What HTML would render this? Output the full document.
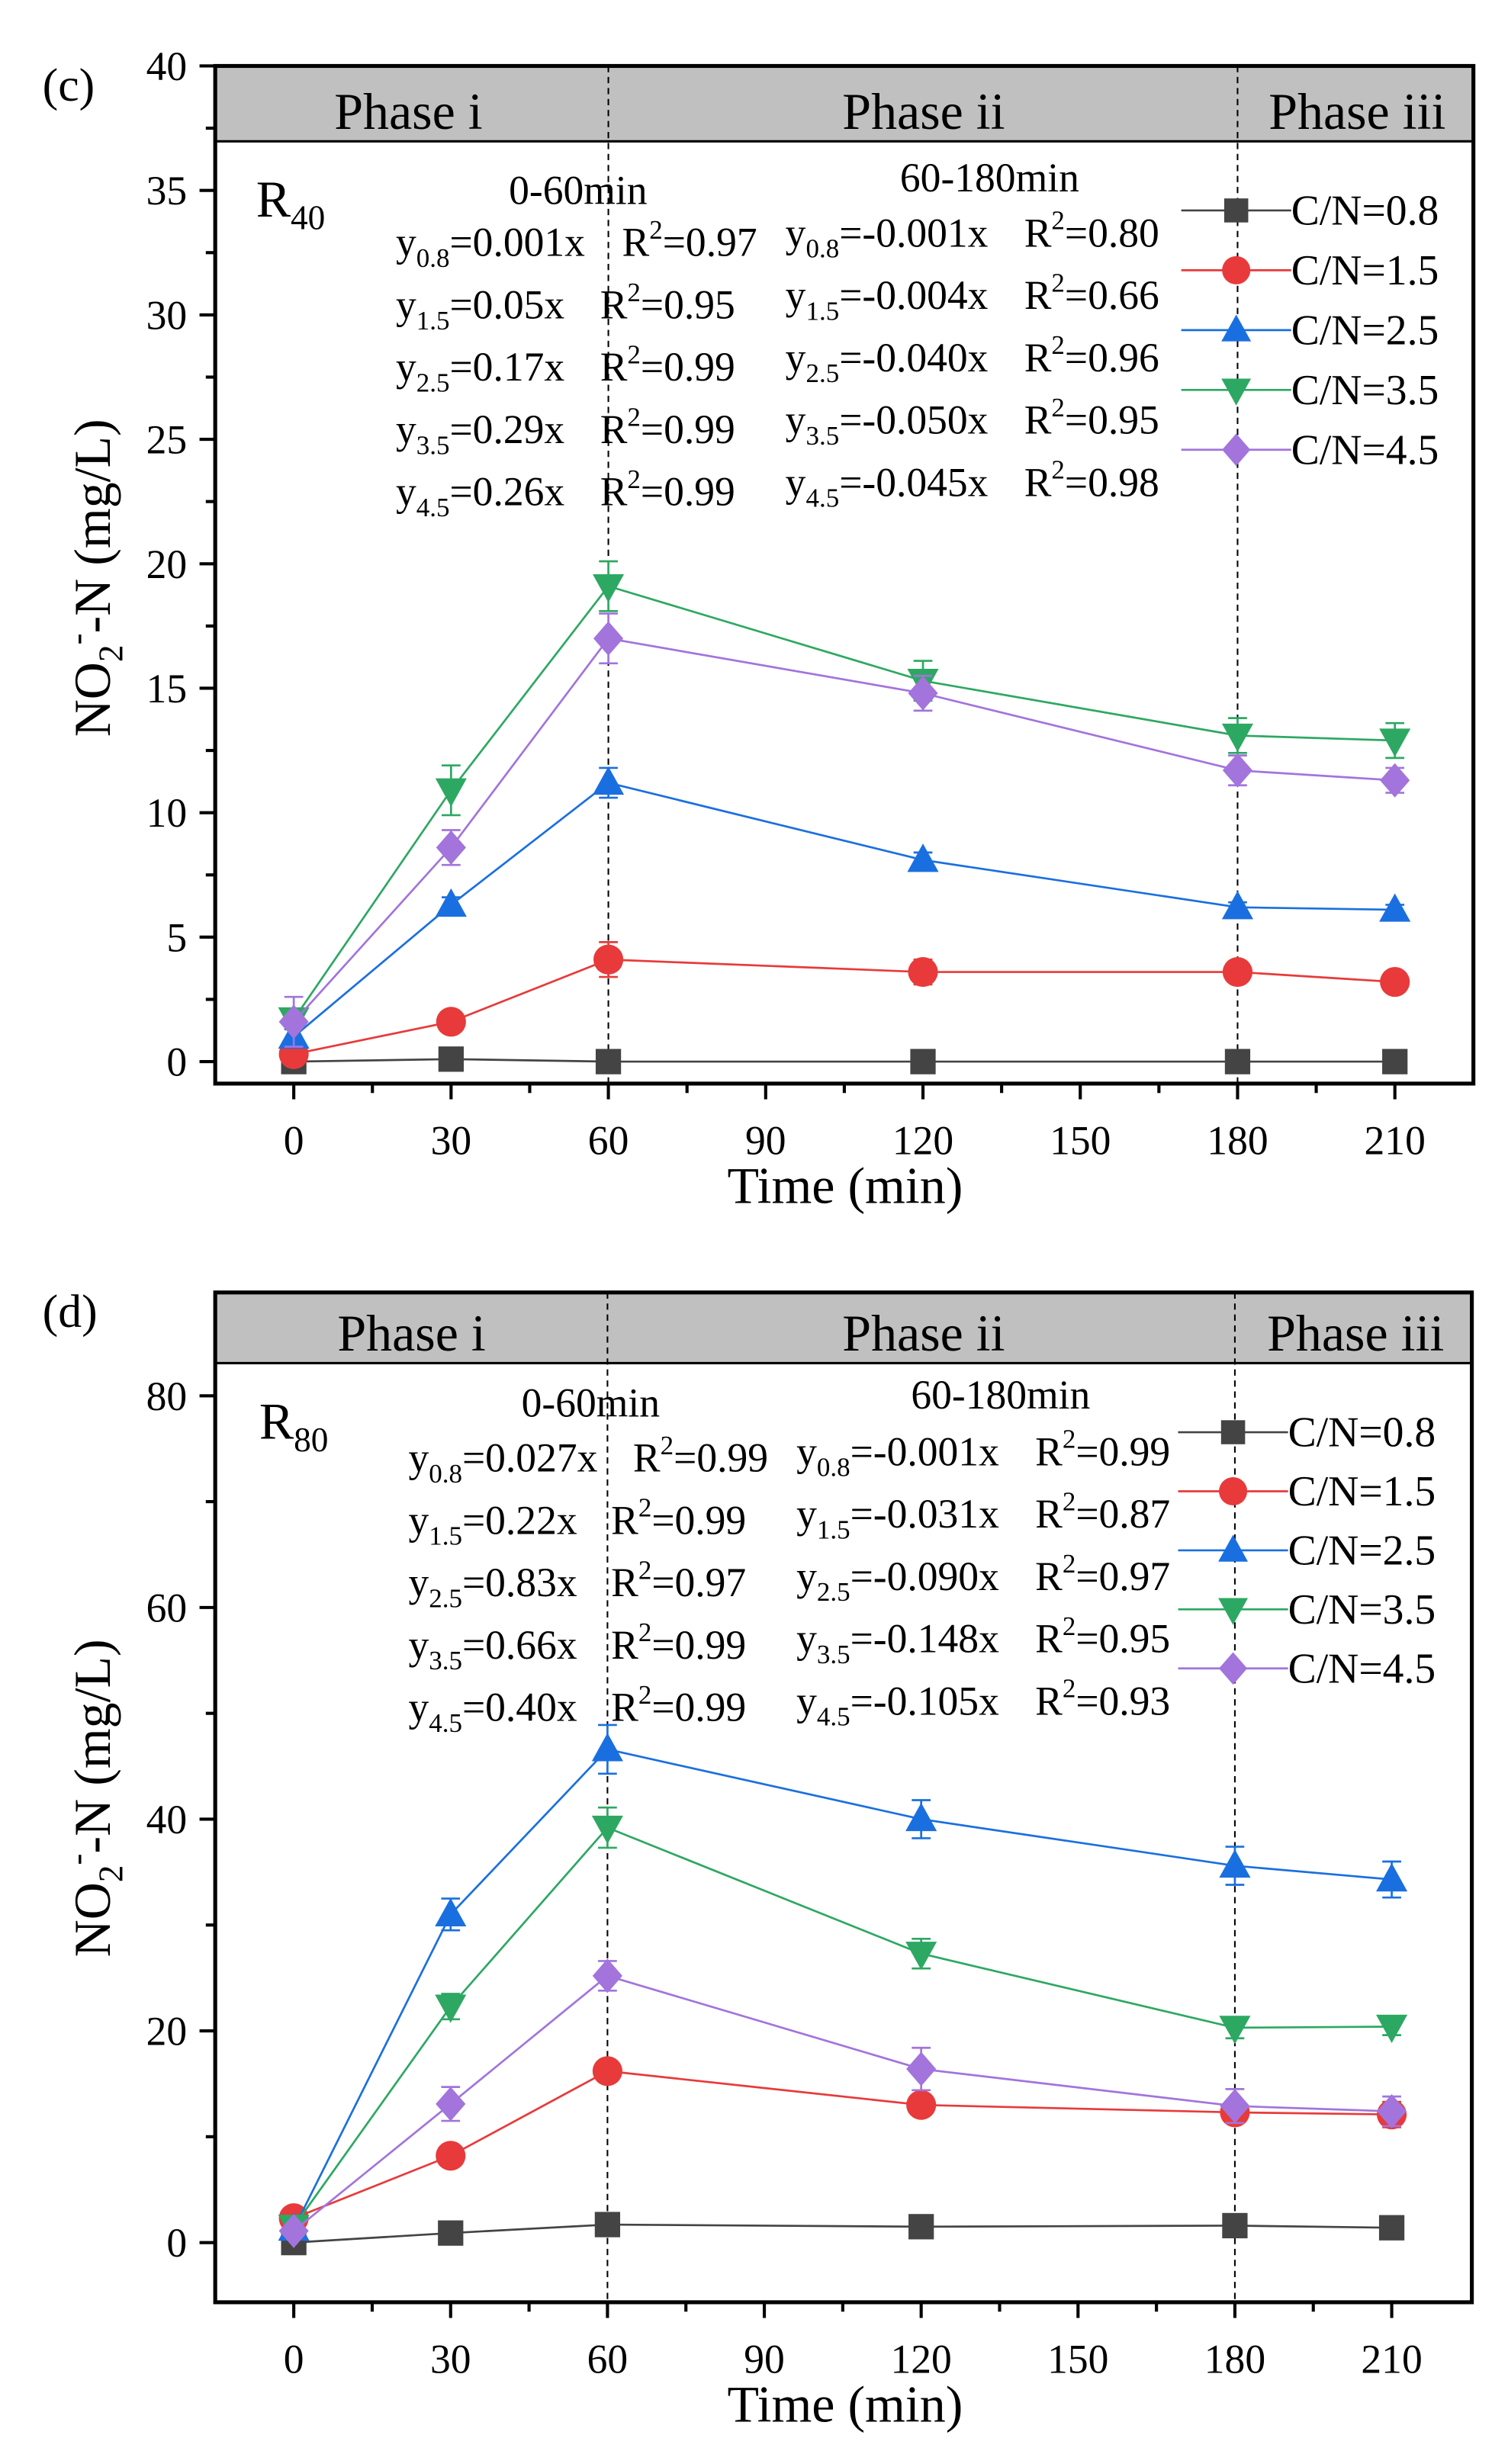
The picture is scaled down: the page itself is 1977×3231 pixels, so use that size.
<!DOCTYPE html>
<html><head><meta charset="utf-8"><style>
html,body{margin:0;padding:0;background:#fff}
svg{display:block}
text{font-family:"Liberation Serif",serif;fill:#000}
</style></head><body>
<svg id="svg" width="1977" height="3231" viewBox="0 0 960 1569" xmlns="http://www.w3.org/2000/svg">
<g id="chartC"></g>
<g id="chartD"></g>
</svg>
<script>
const times = [0, 30, 60, 120, 180, 210];
const seriesNames = ["C/N=0.8", "C/N=1.5", "C/N=2.5", "C/N=3.5", "C/N=4.5"];
const c08 = [0, 0.1, 0, 0, 0, 0];
const c15 = [0.3, 1.6, 4.1, 3.6, 3.6, 3.2];
const c25 = [1.0, 6.3, 11.2, 8.1, 6.2, 6.1];
const c35 = [1.7, 10.9, 19.1, 15.3, 13.1, 12.9];
const c45 = [1.6, 8.6, 17.0, 14.8, 11.7, 11.3];
const cErr08 = [0.1, 0.1, 0.1, 0.1, 0.1, 0.1];
const cErr15 = [0.2, 0.2, 0.7, 0.5, 0.3, 0.2];
const cErr25 = [0.3, 0.3, 0.6, 0.3, 0.2, 0.2];
const cErr35 = [0.3, 1.0, 1.0, 0.8, 0.7, 0.7];
const cErr45 = [1.0, 0.7, 1.0, 0.7, 0.6, 0.5];
const d08 = [0, 0.9, 1.7, 1.5, 1.6, 1.4];
const d15 = [2.3, 8.2, 16.2, 13.0, 12.3, 12.1];
const d25 = [1.3, 31.0, 46.6, 40.0, 35.6, 34.3];
const d35 = [1.5, 22.3, 39.2, 27.3, 20.3, 20.4];
const d45 = [1.1, 13.1, 25.2, 16.4, 12.9, 12.4];
const dErr08 = [0.2, 0.2, 0.2, 0.2, 0.2, 0.2];
const dErr15 = [0.5, 0.6, 0.7, 0.6, 0.8, 1.2];
const dErr25 = [0.5, 1.5, 2.3, 1.8, 1.8, 1.7];
const dErr35 = [0.5, 1.2, 1.9, 1.4, 1.0, 0.8];
const dErr45 = [0.5, 1.6, 1.4, 2.0, 1.6, 1.4];
const xTicks = [0, 30, 60, 90, 120, 150, 180, 210];
const cYTicks = [0, 5, 10, 15, 20, 25, 30, 35, 40];
const dYTicks = [0, 20, 40, 60, 80];
const cEqLeft = [["0.8","=0.001x","0.97"],["1.5","=0.05x","0.95"],["2.5","=0.17x","0.99"],["3.5","=0.29x","0.99"],["4.5","=0.26x","0.99"]];
const cEqRight = [["0.8","=-0.001x","0.80"],["1.5","=-0.004x","0.66"],["2.5","=-0.040x","0.96"],["3.5","=-0.050x","0.95"],["4.5","=-0.045x","0.98"]];
const dEqLeft = [["0.8","=0.027x","0.99"],["1.5","=0.22x","0.99"],["2.5","=0.83x","0.97"],["3.5","=0.66x","0.99"],["4.5","=0.40x","0.99"]];
const dEqRight = [["0.8","=-0.001x","0.99"],["1.5","=-0.031x","0.87"],["2.5","=-0.090x","0.97"],["3.5","=-0.148x","0.95"],["4.5","=-0.105x","0.93"]];

const colors = ["#444444", "#e83a3a", "#1a6fe0", "#2da862", "#a274dc"];
const shapes = ["square", "circle", "up", "down", "diamond"];
const NS = "http://www.w3.org/2000/svg";
function mk(parent, tag, attrs, txt) {
  const e = document.createElementNS(NS, tag);
  for (const k in attrs) e.setAttribute(k, attrs[k]);
  if (txt !== undefined) e.textContent = txt;
  parent.appendChild(e);
  return e;
}
function marker(g, shape, cx, cy, col, r) {
  let e;
  if (shape === "square") e = mk(g, "rect", {x: cx - r*0.85, y: cy - r*0.85, width: r*1.7, height: r*1.7, fill: col});
  else if (shape === "circle") e = mk(g, "circle", {cx: cx, cy: cy, r: r, fill: col});
  else if (shape === "up") e = mk(g, "polygon", {points: `${cx},${cy-r*1.1} ${cx+r*1.05},${cy+r*0.8} ${cx-r*1.05},${cy+r*0.8}`, fill: col});
  else if (shape === "down") e = mk(g, "polygon", {points: `${cx},${cy+r*1.1} ${cx+r*1.05},${cy-r*0.8} ${cx-r*1.05},${cy-r*0.8}`, fill: col});
  else e = mk(g, "polygon", {points: `${cx},${cy-r*1.15} ${cx+r*1.0},${cy} ${cx},${cy+r*1.15} ${cx-r*1.0},${cy}`, fill: col});
  return e;
}

function drawChart(g, cfg) {
  const L = cfg.left, R = cfg.right, T = cfg.top, B = cfg.bottom;
  const xs = t => cfg.x0 + (t - 0) * (cfg.x210 - cfg.x0) / 210;
  const ys = v => cfg.y0 - v * cfg.pxPerUnit;
  const band = mk(g, "rect", {x: L, y: T, width: R - L, height: cfg.bandH, fill: "#c0c0c0"});
  
  
  mk(g, "line", {x1: L, x2: R, y1: T + cfg.bandH, y2: T + cfg.bandH, stroke: "#000", "stroke-width": 1.5});
  [60, 180].forEach(t => {
    const dl = mk(g, "line", {x1: xs(t), x2: xs(t), y1: T, y2: B, stroke: "#000", "stroke-width": 1, "stroke-dasharray": "4,3"});
    
    
  });
  const phases = [["Phase i", cfg.ph[0]], ["Phase ii", cfg.ph[1]], ["Phase iii", cfg.ph[2]]];
  phases.forEach((p, i) => {
    const t = mk(g, "text", {x: p[1], y: T + cfg.bandH - 8, "font-size": 33, "text-anchor": "middle"}, p[0]);
    
    
  });
  xTicks.forEach(t => {
    mk(g, "line", {x1: xs(t), x2: xs(t), y1: B, y2: B + 10, stroke: "#000", "stroke-width": 2});
    if (t < 210) mk(g, "line", {x1: xs(t + 15), x2: xs(t + 15), y1: B, y2: B + 6, stroke: "#000", "stroke-width": 2});
    const lb = mk(g, "text", {x: xs(t), y: B + 45, "font-size": 26, "text-anchor": "middle"}, String(t));
    
    
  });
  cfg.yTicks.forEach((v, i) => {
    mk(g, "line", {x1: L - 10, x2: L, y1: ys(v), y2: ys(v), stroke: "#000", "stroke-width": 2});
    const lb = mk(g, "text", {x: L - 18, y: ys(v) + 9, "font-size": 26, "text-anchor": "end"}, String(v));
    
    
  });
  for (let i = 0; i < cfg.yTicks.length; i++) {
    const mv = cfg.yTicks[i] + cfg.yStep / 2;
    if (ys(mv) > T) mk(g, "line", {x1: L - 6, x2: L, y1: ys(mv), y2: ys(mv), stroke: "#000", "stroke-width": 2});
  }
  const box = mk(g, "rect", {x: L, y: T, width: R - L, height: B - T, fill: "none", stroke: "#000", "stroke-width": 2.5});
  
  
  const xt = mk(g, "text", {x: 538, y: B + 76, "font-size": 33, "text-anchor": "middle"}, "Time (min)");
  
  
  const yt = mk(g, "text", {x: 0, y: 0, "font-size": 33, "text-anchor": "middle", transform: `translate(70,${cfg.ytY}) rotate(-90)`});
  
  
  mk(yt, "tspan", {}, "NO");
  mk(yt, "tspan", {"font-size": 22, dy: 8}, "2");
  mk(yt, "tspan", {"font-size": 22, dy: -22}, "-");
  mk(yt, "tspan", {dy: 14}, "-N (mg/L)");
  const pl = mk(g, "text", {x: 27, y: cfg.panelY, "font-size": 30}, cfg.panel);
  
  
  const rl = mk(g, "text", {x: cfg.rX, y: cfg.rY, "font-size": 33});
  
  
  mk(rl, "tspan", {}, "R");
  mk(rl, "tspan", {"font-size": 22, dy: 8}, cfg.rSub);
  const h1 = mk(g, "text", {x: cfg.h1[0], y: cfg.h1[1], "font-size": 26, "text-anchor": "middle"}, "0-60min");
  
  
  const h2 = mk(g, "text", {x: cfg.h2[0], y: cfg.h2[1], "font-size": 26, "text-anchor": "middle"}, "60-180min");
  
  
  function eqCol(list, x, y0, r2x, r2xFirst) {
    list.forEach((e, i) => {
      const y = y0 + i * 39.7;
      const t = mk(g, "text", {x: x, y: y, "font-size": 26});
      
      
      mk(t, "tspan", {}, "y");
      mk(t, "tspan", {"font-size": 17, dy: 7}, e[0]);
      mk(t, "tspan", {dy: -7}, e[1]);
      const r = mk(g, "text", {x: i === 0 ? r2xFirst : r2x, y: y, "font-size": 26});
      
      
      mk(r, "tspan", {}, "R");
      mk(r, "tspan", {"font-size": 17, dy: -11}, "2");
      mk(r, "tspan", {dy: 11}, "=" + e[2]);
    });
  }
  eqCol(cfg.eqL, cfg.eqLx, cfg.eqLy, cfg.r2Lx, cfg.r2LxFirst);
  eqCol(cfg.eqR, cfg.eqRx, cfg.eqRy, cfg.r2Rx, cfg.r2Rx);
  cfg.series.forEach((s, si) => {
    const sg = mk(g, "g", {});
    
    
    const col = colors[si];
    mk(sg, "polyline", {points: times.map((t, i) => `${xs(t)},${ys(s[i])}`).join(" "), fill: "none", stroke: col, "stroke-width": 1.3});
    times.forEach((t, i) => {
      const e = cfg.errs[si][i];
      const cx = xs(t), y1 = ys(s[i] + e), y2 = ys(s[i] - e);
      mk(sg, "line", {x1: cx, x2: cx, y1: y1, y2: y2, stroke: col, "stroke-width": 1.3});
      mk(sg, "line", {x1: cx - 6, x2: cx + 6, y1: y1, y2: y1, stroke: col, "stroke-width": 1.3});
      mk(sg, "line", {x1: cx - 6, x2: cx + 6, y1: y2, y2: y2, stroke: col, "stroke-width": 1.3});
      const m = marker(sg, shapes[si], cx, ys(s[i]), col, 9.5);
      
      
    });
  });
  seriesNames.forEach((n, i) => {
    const y = cfg.legY[0] + i * cfg.legStep;
    const lg = mk(g, "g", {});
    
    
    mk(lg, "line", {x1: cfg.legX, x2: cfg.legX + 70, y1: y, y2: y, stroke: colors[i], "stroke-width": 1.3});
    marker(lg, shapes[i], cfg.legX + 35, y, colors[i], 9);
    mk(lg, "text", {x: cfg.legX + 70, y: y + 9, "font-size": 27}, n);
  });
}

drawChart(document.getElementById("chartC"), {
  left: 137, right: 938, top: 42, bottom: 690, bandH: 48,
  x0: 187, x210: 888, y0: 676, pxPerUnit: 15.85,
  yTicks: cYTicks, yStep: 5, ph: [260, 588, 864], ytY: 368,
  panel: "(c)", panelY: 64, rX: 163, rY: 138, rSub: "40",
  h1: [368, 130], h2: [630, 122],
  eqL: cEqLeft, eqLx: 252, eqLy: 163, r2Lx: 382, r2LxFirst: 396,
  eqR: cEqRight, eqRx: 500, eqRy: 157, r2Rx: 652,
  series: [c08, c15, c25, c35, c45], errs: [cErr08, cErr15, cErr25, cErr35, cErr45],
  legX: 752, legY: [134], legStep: 38.1
});
drawChart(document.getElementById("chartD"), {
  left: 137, right: 937, top: 823, bottom: 1466, bandH: 45,
  x0: 187, x210: 886, y0: 1428, pxPerUnit: 6.74,
  yTicks: dYTicks, yStep: 20, ph: [262, 588, 863], ytY: 1145,
  panel: "(d)", panelY: 845, rX: 165, rY: 916, rSub: "80",
  h1: [376, 902], h2: [637, 897],
  eqL: dEqLeft, eqLx: 260, eqLy: 937, r2Lx: 389, r2LxFirst: 403,
  eqR: dEqRight, eqRx: 507, eqRy: 933, r2Rx: 659,
  series: [d08, d15, d25, d35, d45], errs: [dErr08, dErr15, dErr25, dErr35, dErr45],
  legX: 750, legY: [912], legStep: 37.6
});
</script>
</body></html>
